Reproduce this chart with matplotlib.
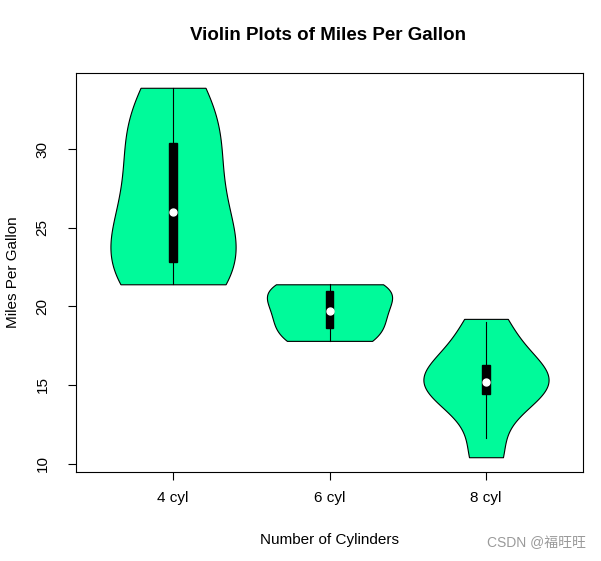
import matplotlib
matplotlib.use("Agg")
import matplotlib.pyplot as plt
import numpy as np

# mtcars mpg split by number of cylinders
labels = ["4 cyl", "6 cyl", "8 cyl"]
mpg_4 = [22.8, 24.4, 22.8, 32.4, 30.4, 33.9, 21.5, 27.3, 26.0, 30.4, 21.4]
mpg_6 = [21.0, 21.0, 21.4, 18.1, 19.2, 17.8, 19.7]
mpg_8 = [18.7, 14.3, 16.4, 17.3, 15.2, 10.4, 10.4, 14.7, 15.5, 15.2, 13.3, 19.2, 15.8, 15.0]
y_ticks = [10, 15, 20, 25, 30]

groups = [np.array(mpg_4), np.array(mpg_6), np.array(mpg_8)]
positions = [1, 2, 3]
fill = "#00FA9A"

plt.rcParams["font.family"] = ["Liberation Sans", "DejaVu Sans"]

fig = plt.figure(figsize=(6.01, 5.61), dpi=100)
ax = fig.add_axes([76 / 601, 1 - 472 / 561, (583 - 76) / 601, (472 - 73) / 561])

# normal-optimal bandwidth like sm.density
parts = ax.violinplot(groups, positions=positions, widths=0.8,
                      showextrema=False, points=200,
                      bw_method=lambda k: (4.0 / (3.0 * k.num_dp)) ** 0.2)
for body in parts["bodies"]:
    body.set_facecolor(fill)
    body.set_edgecolor("black")
    body.set_linewidth(0.8)
    body.set_alpha(1)

for pos, data in zip(positions, groups):
    q1, med, q3 = np.percentile(data, [25, 50, 75])
    iqr = q3 - q1
    lo = max(data.min(), q1 - 1.5 * iqr)
    hi = min(data.max(), q3 + 1.5 * iqr)
    ax.plot([pos, pos], [lo, hi], color="black", lw=0.8, zorder=3)
    ax.add_patch(plt.Rectangle((pos - 0.025, q1), 0.05, q3 - q1,
                               facecolor="black", edgecolor="black", zorder=4))
    ax.plot(pos, med, "o", color="white", ms=5, zorder=5)

ymin = min(g.min() for g in groups)
ymax = max(g.max() for g in groups)
pad = (ymax - ymin) * 0.04
ax.set_ylim(ymin - pad, ymax + pad)
ax.set_xlim(0.38, 3.62)

ax.set_xticks(positions)
ax.set_xticklabels(labels, fontsize=11)
ax.set_yticks(y_ticks)
ax.set_yticklabels([str(t) for t in y_ticks], fontsize=11, rotation=90, va="center")
ax.tick_params(axis="x", direction="out", length=6, width=0.8, pad=8)
ax.tick_params(axis="y", direction="out", length=6, width=0.8, pad=13)
for s in ax.spines.values():
    s.set_linewidth(0.8)

ax.set_xlabel("Number of Cylinders", fontsize=11, labelpad=20)
ax.set_ylabel("Miles Per Gallon", fontsize=11, labelpad=11)
fig.text(0.545, 1 - 35 / 561, "Violin Plots of Miles Per Gallon",
         ha="center", va="center", fontsize=13.5, fontweight="bold")

fig.text(0.975, 1 - 543 / 561, "CSDN @福旺旺", ha="right", va="center",
         fontsize=10, color="#9a9a9a",
         family=["Liberation Sans", "Noto Sans CJK SC"])

fig.savefig("out.png", dpi=100)
